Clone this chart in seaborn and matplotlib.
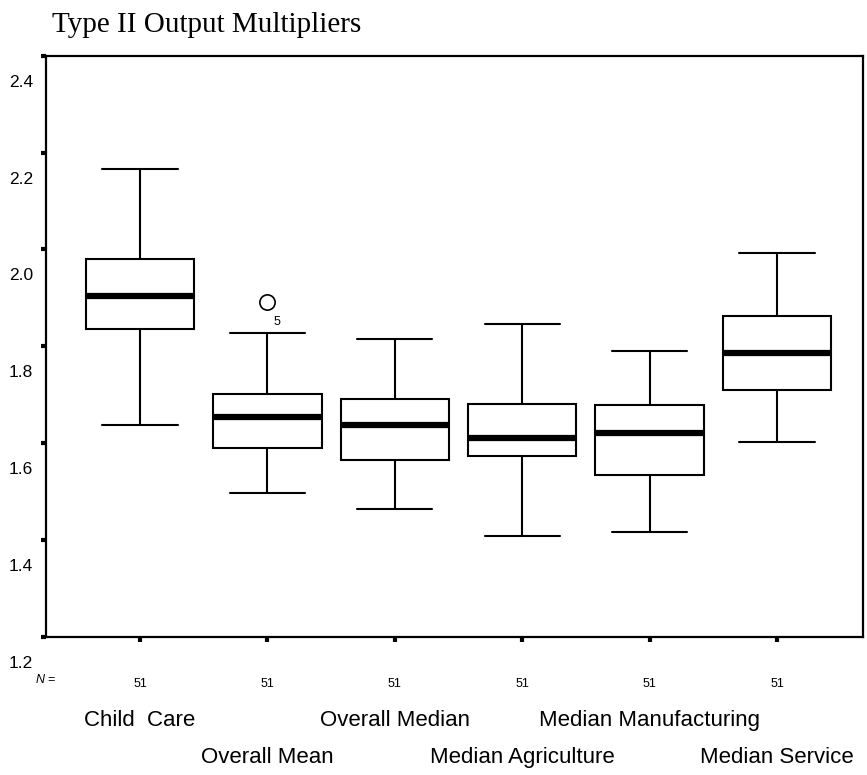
import matplotlib
matplotlib.use("Agg")
import matplotlib.pyplot as plt
import matplotlib.transforms as mtransforms
import seaborn as sns

# summary values (SPSS style boxplot)
categories = ["Child  Care", "Overall Mean", "Overall Median",
              "Median Agriculture", "Median Manufacturing", "Median Service"]
whislo = [1.637, 1.497, 1.464, 1.408, 1.417, 1.602]
q1 = [1.836, 1.591, 1.565, 1.574, 1.534, 1.710]
med = [1.904, 1.654, 1.637, 1.611, 1.622, 1.787]
q3 = [1.981, 1.701, 1.691, 1.681, 1.679, 1.863]
whishi = [2.166, 1.827, 1.815, 1.847, 1.791, 1.992]
outliers = [[], [1.891], [], [], [], []]
outlier_ids = [[], ["5"], [], [], [], []]
n_cases = [51, 51, 51, 51, 51, 51]
yticks = [1.2, 1.4, 1.6, 1.8, 2.0, 2.2, 2.4]

sns.set_theme(style="ticks")
plt.rcParams['font.family'] = ['Liberation Sans', 'DejaVu Sans']
plt.rcParams['text.color'] = 'black'
plt.rcParams['xtick.color'] = 'black'
plt.rcParams['ytick.color'] = 'black'
plt.rcParams['mathtext.fontset'] = 'custom'
plt.rcParams['mathtext.it'] = 'Liberation Sans:italic'
plt.rcParams['mathtext.rm'] = 'Liberation Sans'

fig = plt.figure(figsize=(8.67, 7.75), dpi=100)
ax = fig.add_axes([0.0531, 0.1781, 0.9423, 0.75])

stats = []
for i, name in enumerate(categories):
    stats.append(dict(label=name, med=med[i], q1=q1[i], q3=q3[i],
                      whislo=whislo[i], whishi=whishi[i], fliers=outliers[i]))

pos = list(range(len(categories)))
ax.bxp(stats, positions=pos, widths=0.85, capwidths=0.59,
       showfliers=True, patch_artist=True,
       boxprops=dict(facecolor='white', edgecolor='black', linewidth=1.5),
       medianprops=dict(color='black', linewidth=4.5, solid_capstyle='butt'),
       whiskerprops=dict(color='black', linewidth=1.5),
       capprops=dict(color='black', linewidth=1.5),
       flierprops=dict(marker='o', markerfacecolor='white', markeredgecolor='black',
                       markersize=11, markeredgewidth=1.2, linestyle='none'))

# case number next to outliers
for i in pos:
    for val, cid in zip(outliers[i], outlier_ids[i]):
        ax.annotate(cid, (i, val), xytext=(7, -14), textcoords='offset points',
                    fontsize=9, ha='center', va='center', color='black')

ax.set_xlim(-0.738, 5.675)
ax.set_ylim(1.2, 2.4)
ax.set_yticks(yticks)
ax.set_yticklabels([f"{v:.1f}" for v in yticks], fontsize=12.5)
ax.set_xticks(pos)
ax.set_xticklabels([str(n) for n in n_cases], fontsize=9)

ax.tick_params(axis='both', direction='out', length=3.5, width=3, color='black',
               labelcolor='black')
ax.tick_params(axis='y', pad=6)
ax.tick_params(axis='x', pad=26)

# SPSS puts the axis numbers a little below their tick marks
shift = mtransforms.ScaledTranslation(0, -0.25, fig.dpi_scale_trans)
for lab in ax.get_yticklabels():
    lab.set_transform(lab.get_transform() + shift)

for sp in ax.spines.values():
    sp.set_linewidth(1.6)
    sp.set_color('black')

# category names in two staggered rows
trans = ax.get_xaxis_transform()
for i, name in enumerate(categories):
    yrow = -0.143 if i % 2 == 0 else -0.208
    ax.text(i, yrow, name, transform=trans, ha='center', va='center',
            fontsize=16, color='black')

ax.text(-0.74, -0.074, r"$\mathit{N}$ =", transform=trans, ha='center', va='center',
        fontsize=9, color='black')
fig.text(52 / 867, 1 - 32 / 775, "Type II Output Multipliers", color='black',
         fontsize=21, family='Liberation Serif', va='baseline', ha='left')

fig.savefig("out.png", dpi=100)
